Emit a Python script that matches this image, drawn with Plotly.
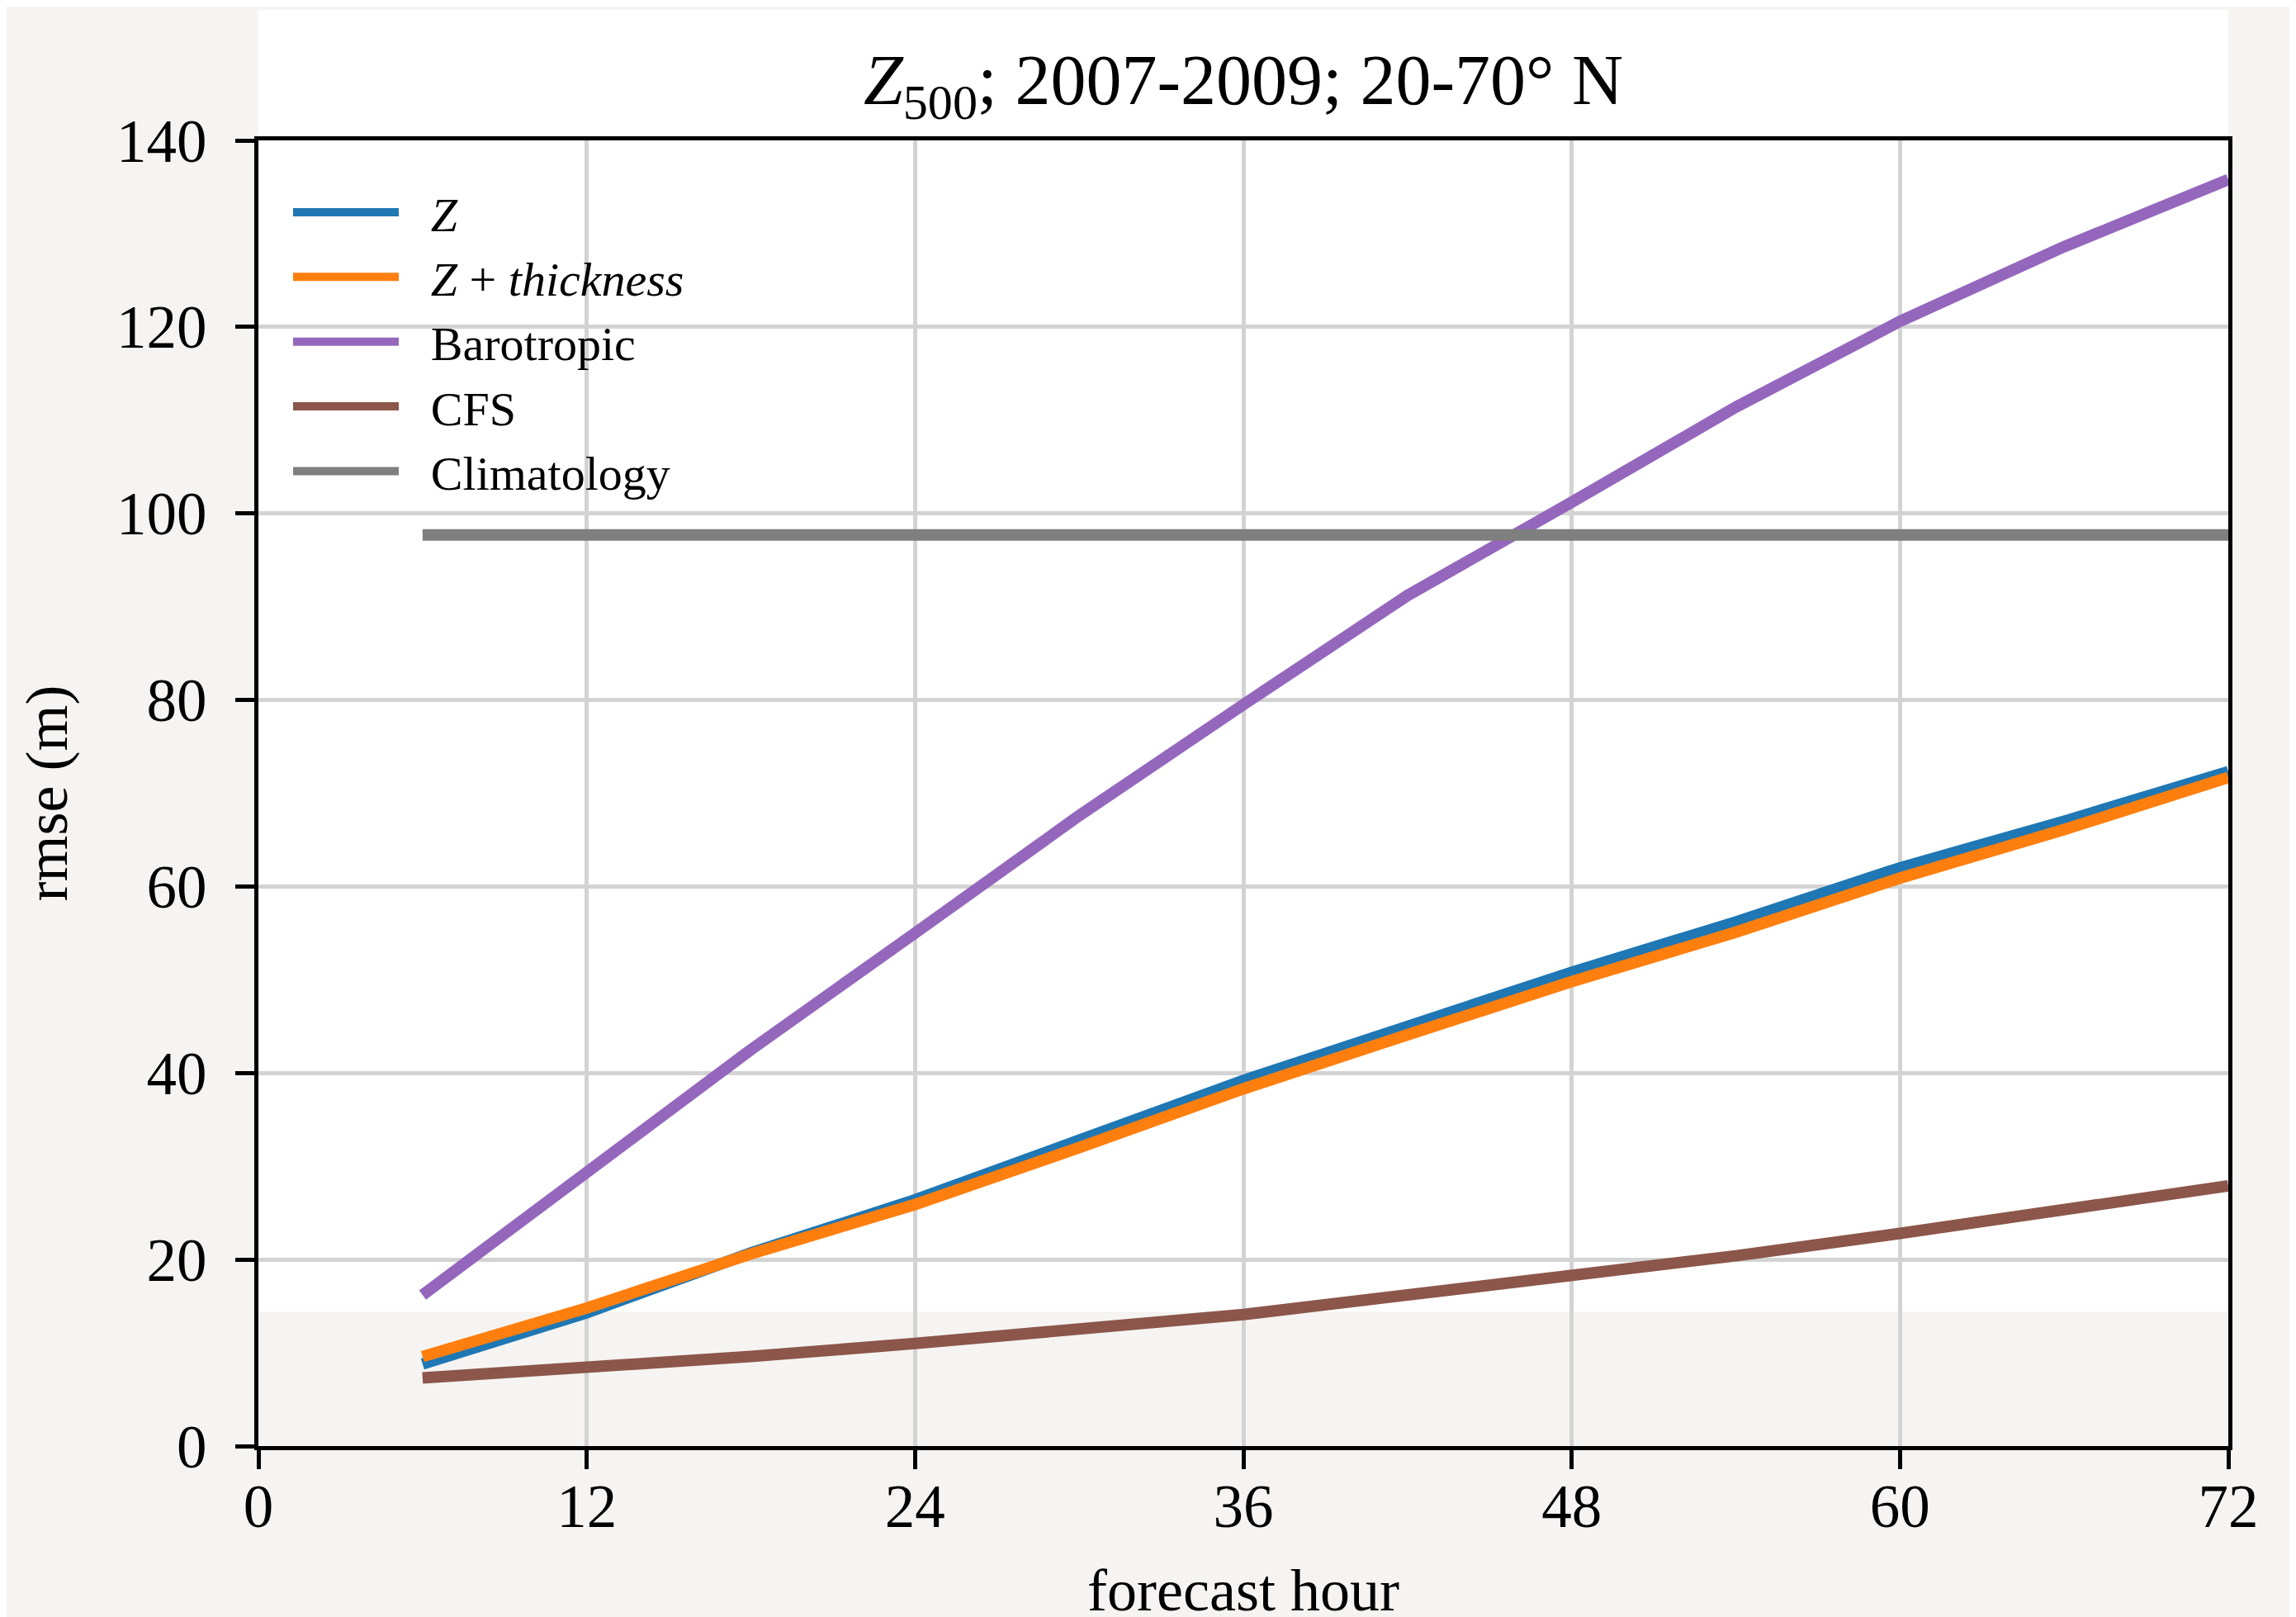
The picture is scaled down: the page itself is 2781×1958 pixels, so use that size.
import plotly.graph_objects as go

hours = [6, 12, 18, 24, 30, 36, 42, 48, 54, 60, 66, 72]
z_rmse = [8.8, 14.3, 20.7, 26.4, 32.8, 39.2, 45.0, 50.8, 56.2, 62.0, 67.0, 72.3]
z_thick_rmse = [9.6, 14.8, 20.6, 25.9, 32.0, 38.3, 44.1, 49.8, 55.1, 60.9, 66.1, 71.7]
barotropic_rmse = [16.2, 29.2, 42.5, 55.0, 67.6, 79.5, 91.2, 101.2, 111.4, 120.6, 128.6, 135.8]
cfs_rmse = [7.3, 8.3, 9.6, 11.0, 12.6, 14.1, 16.2, 18.2, 20.4, 22.8, 25.3, 27.9]
climatology_rmse = [97.7] * 12

series_names = ["<i>Z</i>", "<i>Z</i> + <i>thickness</i>", "Barotropic", "CFS", "Climatology"]
series_values = [z_rmse, z_thick_rmse, barotropic_rmse, cfs_rmse, climatology_rmse]
series_colors = ["#1f77b4", "#ff7f0e", "#9467bd", "#8c564b", "#7f7f7f"]

x_ticks = [0, 12, 24, 36, 48, 60, 72]
y_ticks = [0, 20, 40, 60, 80, 100, 120, 140]

FONT = "Liberation Serif, Times New Roman, serif"
BG = "#f5f4f2"
PAD = "\u00a0\u00a0\u200a"

fig = go.Figure()
for i, (name, vals, col) in enumerate(zip(series_names, series_values, series_colors)):
    fig.add_trace(go.Scatter(x=hours, y=vals, mode="lines", name=PAD + name,
                             legendgroup=f"g{i}",
                             line=dict(color=col, width=14)))

fig.add_shape(type="rect", xref="paper", yref="paper", x0=0, x1=1, y0=0.103, y1=1.1,
              fillcolor="white", line=dict(width=0), layer="below")

fig.update_layout(
    width=2781, height=1958,
    paper_bgcolor=BG, plot_bgcolor="rgba(0,0,0,0)",
    margin=dict(l=305, r=90, t=162, b=205),
    font=dict(family=FONT, color="black", size=72),
    title=dict(text="<i>Z</i><sub>500</sub>; 2007-2009; 20-70° N",
               font=dict(family=FONT, size=86, color="black"),
               x=0.5, xref="paper", xanchor="center",
               y=1 - 88 / 1958, yref="container", yanchor="middle"),
    legend=dict(x=0.0155, y=0.973, xanchor="left", yanchor="top",
                bgcolor="rgba(0,0,0,0)", font=dict(family=FONT, size=58),
                itemwidth=128, tracegroupgap=0, traceorder="grouped"),
    showlegend=True,
)
fig.update_xaxes(range=[0, 72], tickvals=x_ticks, ticktext=[str(v) for v in x_ticks],
                 showgrid=True, gridcolor="#d3d3d3", gridwidth=5,
                 showline=True, linecolor="black", linewidth=5, mirror=True,
                 ticks="outside", ticklen=23, tickwidth=5, tickcolor="black",
                 ticklabelstandoff=-18,
                 zeroline=False, tickfont=dict(size=73),
                 title=dict(text="forecast hour", font=dict(size=72), standoff=39))
fig.update_yaxes(range=[0, 140], tickvals=y_ticks, ticktext=[str(v) for v in y_ticks],
                 showgrid=True, gridcolor="#d3d3d3", gridwidth=5,
                 showline=True, linecolor="black", linewidth=5, mirror=True,
                 ticks="outside", ticklen=23, tickwidth=5, tickcolor="black",
                 ticklabelstandoff=20,
                 zeroline=False, tickfont=dict(size=73),
                 title=dict(text="rmse (m)", font=dict(size=72), standoff=37))

fig.write_html("out.html")
